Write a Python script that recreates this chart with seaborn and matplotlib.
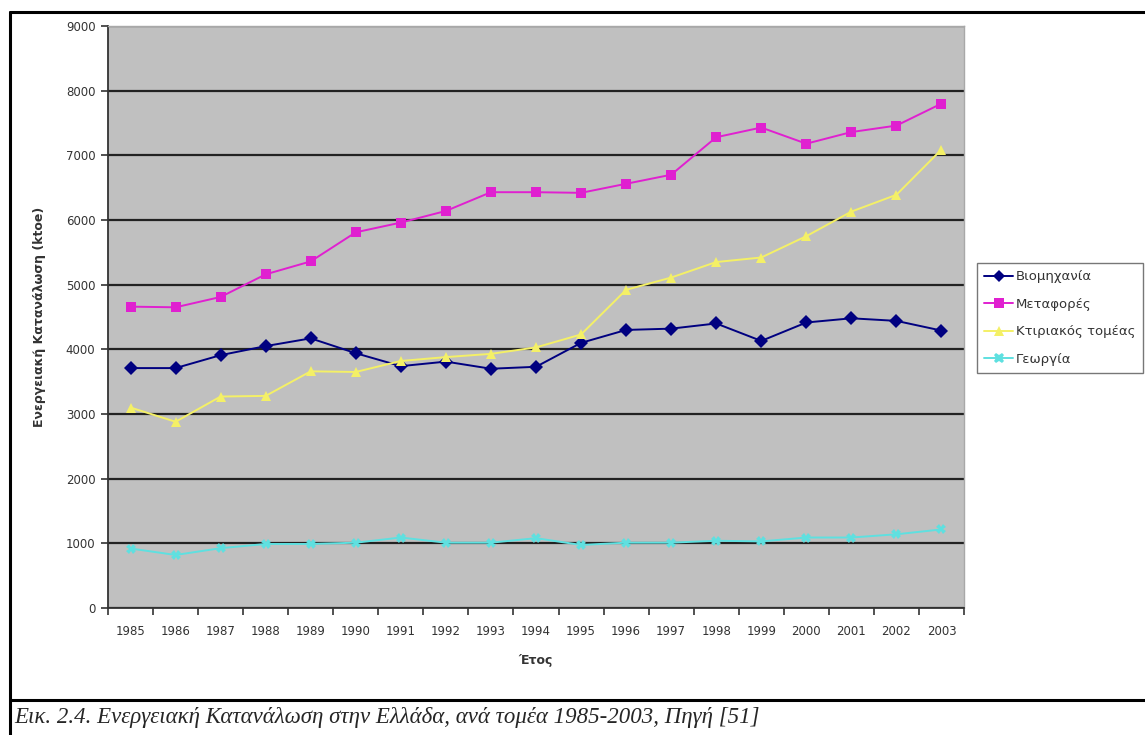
import matplotlib
matplotlib.use("Agg")
import matplotlib.pyplot as plt
import matplotlib.ticker as mticker
import numpy as np
import pandas as pd
import seaborn as sns

years = list(range(1985, 2004))
industry = [3710, 3710, 3910, 4050, 4170, 3940, 3740, 3810, 3700, 3730,
            4100, 4300, 4320, 4400, 4130, 4415, 4480, 4440, 4290]
transport = [4660, 4650, 4810, 5160, 5360, 5810, 5960, 6140, 6430, 6430,
             6420, 6560, 6700, 7280, 7430, 7180, 7360, 7460, 7800]
buildings = [3100, 2880, 3270, 3280, 3660, 3650, 3820, 3880, 3930, 4030,
             4230, 4920, 5110, 5350, 5420, 5750, 6130, 6390, 7090]
agriculture = [920, 820, 925, 990, 990, 1010, 1090, 1010, 1010, 1080,
               975, 1010, 1010, 1040, 1030, 1090, 1090, 1140, 1215]

sectors = ["Βιομηχανία", "Μεταφορές", "Κτιριακός τομέας", "Γεωργία"]
colors = ["#000080", "#e020d0", "#f4f066", "#5ee0e0"]
markers = ["D", "s", "^", "X"]
marker_sizes = {"Βιομηχανία": 6, "Μεταφορές": 7.5, "Κτιριακός τομέας": 7.5, "Γεωργία": 7.5}
yticks = list(range(0, 10000, 1000))

df = pd.concat([
    pd.DataFrame({"year": years, "value": vals, "sector": name})
    for name, vals in zip(sectors, [industry, transport, buildings, agriculture])
])

sns.set_theme(style="white")
plt.rcParams["font.family"] = ["DejaVu Sans"]

fig = plt.figure(figsize=(11.45, 7.35), dpi=100)
ax = fig.add_axes([108 / 1145, 1 - 608 / 735, (964 - 108) / 1145, (608 - 26) / 735])
ax.set_facecolor("#c0c0c0")

sns.lineplot(data=df, x="year", y="value", hue="sector", style="sector",
             hue_order=sectors, style_order=sectors,
             palette=dict(zip(sectors, colors)),
             markers=dict(zip(sectors, markers)), dashes=False,
             markersize=7, linewidth=1.4, markeredgewidth=0,
             ax=ax, legend=True, zorder=3)

for line in ax.get_lines():
    lab = line.get_label()
    if lab in marker_sizes:
        line.set_markersize(marker_sizes[lab])

ax.set_xlim(years[0] - 0.5, years[-1] + 0.5)
ax.set_ylim(0, 9000)
ax.set_yticks(yticks)
ax.set_yticklabels([str(v) for v in yticks])
ax.set_xticks(years)
ax.set_xticklabels([str(y) for y in years])
ax.xaxis.set_minor_locator(mticker.FixedLocator(np.arange(years[0] - 0.5, years[-1] + 1, 1)))
ax.tick_params(axis="x", which="major", length=0, pad=12, labelsize=8.5, labelcolor="#333333")
ax.tick_params(axis="x", which="minor", length=5, width=1.2, color="#333333", direction="out", bottom=True)
ax.tick_params(axis="y", which="major", length=5, width=1.2, color="#333333", direction="out",
               left=True, labelsize=8.5, labelcolor="#333333", pad=4)

ax.yaxis.grid(True, color="#222222", linewidth=1.6)
ax.xaxis.grid(False)
ax.set_axisbelow(True)
for side in ["left", "bottom"]:
    ax.spines[side].set_color("#333333")
    ax.spines[side].set_linewidth(1.3)
for side in ["top", "right"]:
    ax.spines[side].set_color("#a8a8a8")
    ax.spines[side].set_linewidth(1.0)

ax.set_xlabel("Έτος", fontsize=9, fontweight="bold", color="#333333", labelpad=12)
ax.set_ylabel("Ενεργειακή Κατανάλωση (ktoe)", fontsize=9, fontweight="bold",
              color="#333333", labelpad=14)

leg = ax.legend(loc="upper left", bbox_to_anchor=(977 / 1145, 1 - 263 / 735),
                bbox_transform=fig.transFigure, frameon=True, fancybox=False,
                fontsize=9.5, handlelength=2.2, handletextpad=0.2,
                labelspacing=1.1, borderpad=0.55, borderaxespad=0)
leg.get_frame().set_edgecolor("#555555")
leg.get_frame().set_linewidth(1.0)
for t in leg.get_texts():
    t.set_color("#333333")

# Outer frame and caption row
frame_kw = dict(transform=fig.transFigure, color="black", linewidth=2.2, clip_on=False)
fig.add_artist(plt.Line2D([10 / 1145, 1], [1 - 12 / 735, 1 - 12 / 735], **frame_kw))
fig.add_artist(plt.Line2D([10 / 1145, 10 / 1145], [1 - 12 / 735, 0], **frame_kw))
fig.add_artist(plt.Line2D([10 / 1145, 1], [1 - 700 / 735, 1 - 700 / 735], **frame_kw))

fig.text(14 / 1145, 1 - 717 / 735,
         "Εικ. 2.4. Ενεργειακή Κατανάλωση στην Ελλάδα, ανά τομέα 1985-2003, Πηγή [51]",
         family="Liberation Serif", style="italic", fontsize=16.5, va="center", ha="left")

fig.savefig("out.png", dpi=100)
